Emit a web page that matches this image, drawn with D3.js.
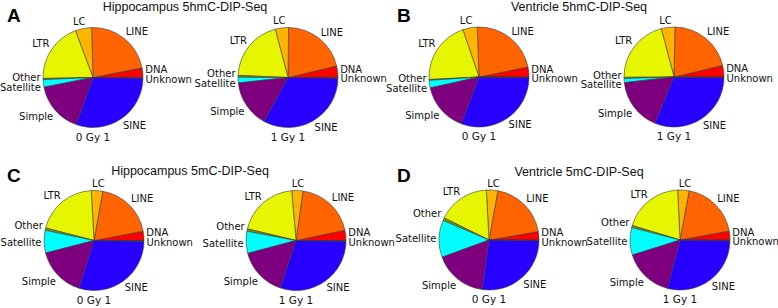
<!DOCTYPE html>
<html>
<head>
<meta charset="utf-8">
<script src="https://cdn.jsdelivr.net/npm/d3@7"></script>
<style>
  html, body { margin: 0; padding: 0; background: #fff; }
  svg { display: block; }
</style>
</head>
<body>
<div id="chart"></div>
<script>
// slice order runs counter-clockwise from 3 o'clock
const categories = ['DNA', 'LINE', 'LC', 'LTR', 'Other', 'Satellite', 'Simple', 'SINE', 'Unknown'];
const sliceColors = ['#ff0000', '#ff6400', '#ffb400', '#e6f500', '#6a9a10', '#00ffff', '#7f007f', '#2800ff', '#222222'];

// percent of reads per repeat class
const hippo5hmC_0Gy = [3.1, 22.4, 5.3, 19.6, 0.4, 2.4, 16.5, 30.3, 0.2];
const hippo5hmC_1Gy = [3.7, 21.1, 4.3, 20.2, 0.6, 1.8, 15.3, 32.7, 0.2];
const vent5hmC_0Gy  = [3.2, 22.4, 4.7, 20.6, 0.3, 2.4, 15.8, 30.6, 0.2];
const vent5hmC_1Gy  = [3.7, 21.0, 4.4, 21.0, 0.4, 1.3, 17.0, 31.0, 0.2];
const hippo5mC_0Gy  = [3.0, 19.2, 3.7, 20.1, 0.8, 7.3, 16.1, 29.7, 0.2];
const hippo5mC_1Gy  = [3.3, 19.5, 3.6, 19.9, 0.8, 7.1, 15.8, 29.9, 0.2];
const vent5mC_0Gy   = [2.7, 19.5, 3.7, 16.9, 0.9, 12.0, 17.3, 27.0, 0.2];
const vent5mC_1Gy   = [2.9, 19.2, 3.7, 19.6, 0.7, 8.9, 16.1, 28.9, 0.2];

const panelLetters = ['A', 'B', 'C', 'D'];
const panelTitles = ['Hippocampus 5hmC-DIP-Seq', 'Ventricle 5hmC-DIP-Seq', 'Hippocampus 5mC-DIP-Seq', 'Ventricle 5mC-DIP-Seq'];
const doseLabels = ['0 Gy 1', '1 Gy 1'];
const panelSeries = [
  [hippo5hmC_0Gy, hippo5hmC_1Gy],
  [vent5hmC_0Gy, vent5hmC_1Gy],
  [hippo5mC_0Gy, hippo5mC_1Gy],
  [vent5mC_0Gy, vent5mC_1Gy]
];

const width = 778, height = 308;
const radius = 50;

// layout of the four panels
const layout = [
  { letterX: 7,   letterY: 22,  titleX: 185, titleY: 11,  pieX: [93, 288],  pieY: 77.5 },
  { letterX: 397, letterY: 22,  titleX: 579, titleY: 11,  pieX: [479, 674], pieY: 77 },
  { letterX: 7,   letterY: 182, titleX: 190, titleY: 175, pieX: [94, 296],  pieY: 240.5 },
  { letterX: 397, letterY: 182, titleX: 579, titleY: 176, pieX: [489, 680], pieY: 240 }
];

const color = d3.scaleOrdinal().domain(categories).range(sliceColors);

const pie = d3.pie()
  .sort(null)
  .value(d => d.value)
  .startAngle(Math.PI / 2)
  .endAngle(Math.PI / 2 - 2 * Math.PI);

const arc = d3.arc().innerRadius(0).outerRadius(radius);

const svg = d3.select('#chart')
  .append('svg')
  .attr('width', width)
  .attr('height', height)
  .attr('viewBox', `0 0 ${width} ${height}`);

const labelFont = '"DejaVu Sans", Verdana, sans-serif';
const clamp = v => Math.max(-1, Math.min(1, v));

panelSeries.forEach((pair, p) => {
  const L = layout[p];
  const panel = svg.append('g').attr('class', 'panel');

  panel.append('text')
    .attr('x', L.letterX)
    .attr('y', L.letterY)
    .style('font-family', '"Liberation Sans", Arial, sans-serif')
    .style('font-weight', 'bold')
    .style('font-size', '19px')
    .attr('fill', '#000')
    .text(panelLetters[p]);

  panel.append('text')
    .attr('x', L.titleX)
    .attr('y', L.titleY)
    .attr('text-anchor', 'middle')
    .style('font-family', '"Liberation Sans", Arial, sans-serif')
    .style('font-size', '12.5px')
    .attr('fill', '#111')
    .text(panelTitles[p]);

  pair.forEach((values, k) => {
    const cx = L.pieX[k], cy = L.pieY;
    const data = categories.map((c, i) => ({ name: c, value: values[i] }));
    const arcs = pie(data);

    const g = panel.append('g').attr('transform', `translate(${cx},${cy})`);

    g.selectAll('path.slice')
      .data(arcs)
      .join('path')
      .attr('class', 'slice')
      .attr('d', arc)
      .attr('fill', d => color(d.data.name))
      .attr('stroke', '#3a3a3a')
      .attr('stroke-width', 0.6)
      .attr('stroke-linejoin', 'round');

    // labels, MATLAB-style: pushed out along the mid angle
    const labels = g.selectAll('text.lab')
      .data(arcs)
      .join('text')
      .attr('class', 'lab')
      .attr('text-anchor', 'middle')
      .attr('dominant-baseline', 'central')
      .style('font-family', labelFont)
      .style('font-size', '10px')
      .attr('fill', '#111')
      .text(d => d.data.name);

    const h = 9;
    const boxes = [];
    labels.each(function (d) {
      const a = (d.startAngle + d.endAngle) / 2;
      const c = Math.sin(a), s = Math.cos(a);
      const w = this.getComputedTextLength();
      const px = radius * 1.05 * c, py = -radius * 1.05 * s;
      boxes.push({
        node: this, w, side: c >= 0 ? 1 : -1,
        x: px + clamp(3 * c) * w / 2,
        y: py - clamp(3 * s) * h / 2
      });
    });

    // nudge overlapping labels apart vertically
    for (let iter = 0; iter < 6; iter++) {
      for (let i = 0; i < boxes.length; i++) {
        for (let j = i + 1; j < boxes.length; j++) {
          const A = boxes[i], B = boxes[j];
          const xOver = Math.abs(A.x - B.x) < (A.w + B.w) / 2;
          const gap = Math.abs(A.y - B.y);
          if (xOver && gap < h + 0.5) {
            const push = (h + 0.5 - gap) / 2;
            if (A.y <= B.y) { A.y -= push; B.y += push; }
            else { A.y += push; B.y -= push; }
          }
        }
      }
    }
    boxes.forEach(b => d3.select(b.node).attr('x', b.x).attr('y', b.y));

    g.append('text')
      .attr('x', 0)
      .attr('y', radius + 13)
      .attr('text-anchor', 'middle')
      .style('font-family', labelFont)
      .style('font-size', '10.5px')
      .attr('fill', '#111')
      .text(doseLabels[k]);
  });
});
</script>
</body>
</html>
